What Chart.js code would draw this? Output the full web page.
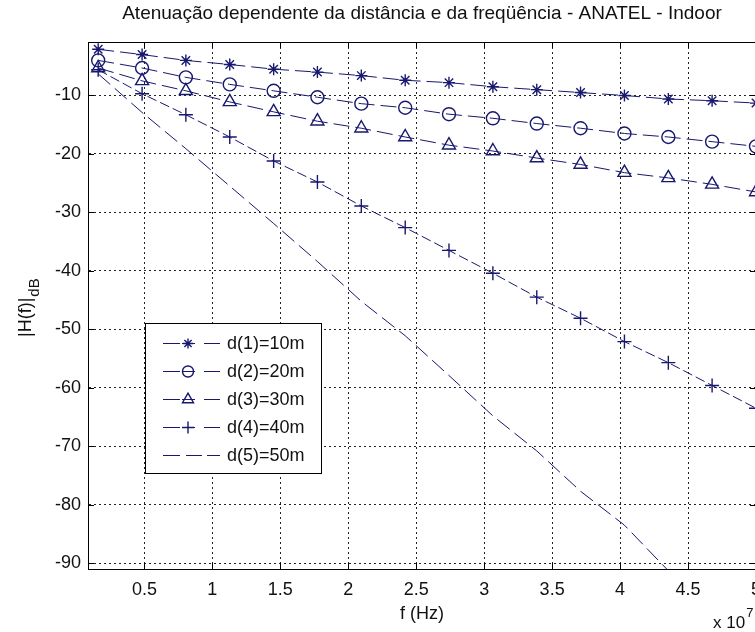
<!DOCTYPE html>
<html><head><meta charset="utf-8">
<script src="https://cdn.jsdelivr.net/npm/chart.js@4.4.0/dist/chart.umd.min.js"></script>
<style>html,body{margin:0;padding:0;background:#fff;overflow:hidden}#wrap{width:800px;height:632px;position:relative}</style>
</head><body><div id="wrap"><canvas id="c" width="800" height="632"></canvas></div>
<script>
// frequency in units of 10^7 Hz
const freq = [0.16, 0.483, 0.805, 1.128, 1.451, 1.773, 2.096, 2.419, 2.741, 3.064, 3.387, 3.709, 4.032, 4.355, 4.677, 5.0];
const d10 = [-2.1, -3.0, -4.0, -4.7, -5.5, -6.0, -6.6, -7.4, -7.8, -8.5, -9.0, -9.5, -10.0, -10.6, -10.9, -11.3];
const d20 = [-4.0, -5.3, -6.9, -8.1, -9.2, -10.3, -11.4, -12.1, -13.2, -13.9, -14.8, -15.6, -16.5, -17.1, -17.9, -18.7];
const d30 = [-5.3, -7.5, -9.2, -11.1, -12.8, -14.4, -15.6, -17.1, -18.5, -19.5, -20.7, -21.8, -23.2, -24.1, -25.2, -26.5];
const d40 = [-5.6, -9.7, -13.3, -17.1, -21.2, -24.8, -28.9, -32.6, -36.5, -40.4, -44.5, -48.1, -52.1, -55.7, -59.6, -63.5];
const d50 = [-6.3, -12.9, -19.1, -25.5, -31.9, -38.4, -45.2, -51.1, -57.9, -64.8, -70.8, -77.7, -83.5, -91.3, -98.1, -104.9];
const seriesLabels = ['d(1)=10m', 'd(2)=20m', 'd(3)=30m', 'd(4)=40m', 'd(5)=50m'];
const xTicks = [0.5, 1, 1.5, 2, 2.5, 3, 3.5, 4, 4.5, 5];
const yTicks = [-90, -80, -70, -60, -50, -40, -30, -20, -10];
const titleText = 'Atenuação dependente da distância e da freqüência - ANATEL - Indoor';
const xLabelText = 'f (Hz)';

const NAVY = '#18186e';
const FONT = '"Liberation Sans", Arial, sans-serif';
const pts = ys => freq.map((f, i) => ({x: f, y: ys[i]}));

const styles = [
  {pointStyle: 'star', pointRadius: 6, dash: [16, 6]},
  {pointStyle: 'circle', pointRadius: 6.5, dash: [16, 6]},
  {pointStyle: 'triangle', pointRadius: 7.5, dash: [16, 6]},
  {pointStyle: 'cross', pointRadius: 7, dash: [10, 4]},
  {pointStyle: false, pointRadius: 0, dash: [16, 6]}
];
const allData = [d10, d20, d30, d40, d50];

const datasets = allData.map((ys, i) => ({
  label: seriesLabels[i],
  data: pts(ys),
  borderColor: NAVY,
  borderWidth: 1,
  borderDash: styles[i].dash,
  pointStyle: styles[i].pointStyle,
  pointRadius: styles[i].pointRadius,
  pointHoverRadius: styles[i].pointRadius,
  pointBorderColor: NAVY,
  pointBackgroundColor: 'rgba(0,0,0,0)',
  pointBorderWidth: 1.4,
  fill: false,
  tension: 0
}));

const decor = {
  id: 'decor',
  beforeDraw(chart) {
    const ctx = chart.ctx;
    ctx.save();
    ctx.fillStyle = '#fff';
    ctx.fillRect(0, 0, chart.width, chart.height);
    ctx.restore();
  },
  afterDraw(chart) {
    const ctx = chart.ctx;
    const a = chart.chartArea;
    const xs = chart.scales.x, ys = chart.scales.y;
    ctx.save();
    // frame
    ctx.strokeStyle = '#000';
    ctx.lineWidth = 1;
    ctx.setLineDash([]);
    ctx.strokeRect(Math.round(a.left) + 0.5, Math.round(a.top) + 0.5, Math.round(a.right - a.left), Math.round(a.bottom - a.top));
    // inner ticks
    ctx.beginPath();
    xTicks.forEach(v => {
      const px = Math.round(xs.getPixelForValue(v)) + 0.5;
      ctx.moveTo(px, a.bottom); ctx.lineTo(px, a.bottom - 6);
      ctx.moveTo(px, a.top); ctx.lineTo(px, a.top + 6);
    });
    yTicks.forEach(v => {
      const py = Math.round(ys.getPixelForValue(v)) + 0.5;
      ctx.moveTo(a.left, py); ctx.lineTo(a.left + 6, py);
      ctx.moveTo(a.right, py); ctx.lineTo(a.right - 6, py);
    });
    ctx.stroke();

    // title
    ctx.fillStyle = '#111';
    ctx.font = '19px ' + FONT;
    ctx.textAlign = 'center';
    ctx.textBaseline = 'alphabetic';
    ctx.fillText(titleText, (a.left + a.right) / 2, 19);

    // x label
    ctx.font = '18px ' + FONT;
    ctx.fillText(xLabelText, (a.left + a.right) / 2, 619);

    // x 10^7
    ctx.textAlign = 'left';
    ctx.font = '17px ' + FONT;
    ctx.fillText('x 10', 713, 628);
    const w = ctx.measureText('x 10').width;
    ctx.font = '13px ' + FONT;
    ctx.fillText('7', 713 + w + 1, 617);

    // y label
    ctx.save();
    ctx.translate(31, 337);
    ctx.rotate(-Math.PI / 2);
    ctx.font = '18px ' + FONT;
    ctx.textAlign = 'left';
    ctx.fillText('|H(f)|', 0, 0);
    const w2 = ctx.measureText('|H(f)|').width;
    ctx.font = '15px ' + FONT;
    ctx.fillText('dB', w2 + 1, 8);
    ctx.restore();

    // legend
    const lx = 145, ly = 323, lw = 176, lh = 150;
    ctx.fillStyle = '#fff';
    ctx.fillRect(lx, ly, lw, lh);
    ctx.strokeStyle = '#000';
    ctx.lineWidth = 1;
    ctx.strokeRect(lx + 0.5, ly + 0.5, lw, lh);
    chart.data.datasets.forEach((ds, i) => {
      const y = 343.5 + i * 28;
      ctx.strokeStyle = ds.borderColor;
      ctx.lineWidth = 1;
      ctx.beginPath();
      if (ds.pointStyle) {
        ctx.moveTo(163, y); ctx.lineTo(180, y);
        ctx.moveTo(204, y); ctx.lineTo(220, y);
        ctx.moveTo(182, y); ctx.lineTo(195, y);
      } else {
        ctx.moveTo(163, y); ctx.lineTo(180, y);
        ctx.moveTo(186, y); ctx.lineTo(202, y);
        ctx.moveTo(207, y); ctx.lineTo(220, y);
      }
      ctx.stroke();
      if (ds.pointStyle) {
        ctx.strokeStyle = ds.pointBorderColor;
        ctx.fillStyle = 'rgba(0,0,0,0)';
        ctx.lineWidth = 1.4;
        Chart.helpers.drawPoint(ctx, {pointStyle: ds.pointStyle, radius: ds.pointRadius * 0.85, borderWidth: 1.4, rotation: 0}, 188, y);
      }
      ctx.fillStyle = '#111';
      ctx.font = '18px ' + FONT;
      ctx.textAlign = 'left';
      ctx.textBaseline = 'middle';
      ctx.fillText(ds.label, 227, y + 1);
      ctx.textBaseline = 'alphabetic';
    });
    ctx.restore();
  }
};

new Chart(document.getElementById('c'), {
  type: 'line',
  data: {datasets},
  options: {
    responsive: false,
    animation: false,
    devicePixelRatio: 1,
    layout: {padding: {left: 0, top: 42, right: 44, bottom: 0}},
    plugins: {legend: {display: false}, title: {display: false}, tooltip: {enabled: false}},
    scales: {
      x: {
        type: 'linear',
        min: 0.085,
        max: 5,
        afterBuildTicks: s => { s.ticks = xTicks.map(v => ({value: v})); },
        afterFit: s => { s.height = 63; s.paddingLeft = 0; s.paddingRight = 0; },
        ticks: {autoSkip: false, maxRotation: 0, padding: 10, color: '#111', font: {family: FONT, size: 18},
          callback: v => String(v)},
        grid: {color: '#222', lineWidth: 1, drawTicks: false},
        border: {display: true, color: '#000', width: 1, dash: [2, 3]}
      },
      y: {
        type: 'linear',
        min: -91,
        max: -0.85,
        afterBuildTicks: s => { s.ticks = yTicks.map(v => ({value: v})); },
        afterFit: s => { s.width = 88; s.paddingTop = 0; s.paddingBottom = 0; },
        ticks: {autoSkip: false, padding: 7, color: '#111', font: {family: FONT, size: 18},
          callback: v => String(v)},
        grid: {color: '#222', lineWidth: 1, drawTicks: false},
        border: {display: true, color: '#000', width: 1, dash: [2, 3]}
      }
    }
  },
  plugins: [decor]
});
</script>
</body></html>
